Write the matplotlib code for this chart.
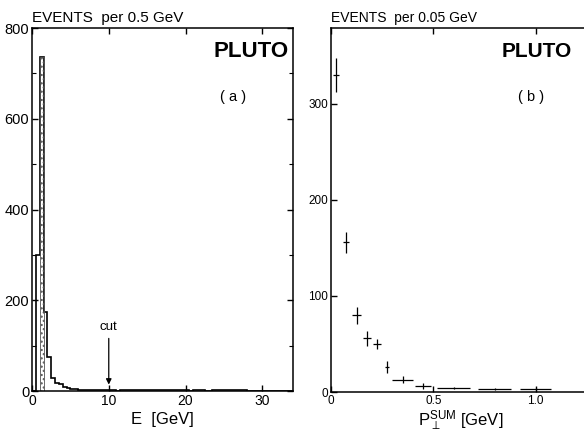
import numpy as np
import matplotlib
matplotlib.use("Agg")
import matplotlib.pyplot as plt
from matplotlib.ticker import MultipleLocator

plt.rcParams['font.family'] = ['Liberation Sans', 'DejaVu Sans']
plt.rcParams['mathtext.fontset'] = 'custom'
plt.rcParams['mathtext.rm'] = 'Liberation Sans'
plt.rcParams['mathtext.it'] = 'Liberation Sans'

# ---- Panel (a): energy histogram, 0.5 GeV bins from 0 to 34 GeV ----
e_bin_width = 0.5
e_counts = [0, 300, 735, 175, 75, 28, 18, 15, 9, 6,
            4, 4, 3, 3, 3, 3, 2, 3, 2, 2,
            2, 2, 1, 2, 2, 2, 2, 2, 2, 2, 2, 2,
            3, 3, 3, 3,
            2, 2, 2, 2, 2, 1, 2, 2, 2, 1, 1, 2,
            3, 3, 3, 3, 3, 3, 2, 2,
            1, 0, 0, 1,
            1, 1, 1, 1, 1, 1, 1, 1]
e_edges = np.arange(len(e_counts) + 1) * e_bin_width
peak_bin = (1.0, 1.5)
peak_value = 735
cut_value = 10

# ---- Panel (b): transverse momentum sum ----
pt_x = [0.025, 0.075, 0.125, 0.175, 0.225, 0.275, 0.35, 0.45, 0.6, 0.8, 1.0]
pt_y = [330, 156, 80, 56, 50, 26, 13, 6, 4, 3, 3]
pt_xerr = [0.015, 0.015, 0.02, 0.02, 0.02, 0.01, 0.05, 0.04, 0.08, 0.08, 0.075]
pt_yerr = [18, 11, 9, 8, 5, 6, 4, 3, 1, 1, 1]

W, H = 584, 440
fig = plt.figure(figsize=(W / 100, H / 100), dpi=100)

axa = fig.add_axes([32 / W, 1 - 391 / H, 261 / W, 363 / H])
axb = fig.add_axes([331 / W, 1 - 392 / H, 260 / W, 364 / H])

for ax in (axa, axb):
    for s in ax.spines.values():
        s.set_linewidth(1.1)
    ax.tick_params(direction='in', top=True, right=True, length=4,
                   width=1.0, pad=2)
    ax.tick_params(which='minor', direction='in', top=True, right=True,
                   length=3, width=0.8)

axa.tick_params(axis='y', labelsize=10.5)
axa.tick_params(axis='x', labelsize=10)
axb.tick_params(axis='both', labelsize=8.5)

# Panel (a)
axa.stairs(e_counts, e_edges, color='black', linewidth=1.2)
axa.bar(peak_bin[0], peak_value, width=peak_bin[1] - peak_bin[0], align='edge',
        fill=False, hatch='....', edgecolor='#555555', linewidth=0.6)
axa.set_xlim(0, 34)
axa.set_ylim(0, 800)
axa.xaxis.set_major_locator(MultipleLocator(10))
axa.yaxis.set_major_locator(MultipleLocator(200))
axa.yaxis.set_minor_locator(MultipleLocator(100))
axa.set_xlabel('E  [GeV]', fontsize=12, labelpad=3)
axa.text(0.0, 1.008, 'EVENTS  per 0.5 GeV', transform=axa.transAxes,
         fontsize=11, ha='left', va='bottom')
axa.text(0.84, 0.935, 'PLUTO', transform=axa.transAxes, fontsize=16,
         fontweight='bold', ha='center', va='center')
axa.text(0.77, 0.81, '( a )', transform=axa.transAxes, fontsize=10.5,
         ha='center', va='center')
axa.annotate('', xy=(cut_value, 8), xytext=(cut_value, 122),
             arrowprops=dict(arrowstyle='-|>', color='black', lw=0.9,
                             mutation_scale=8))
axa.text(cut_value, 128, 'cut', fontsize=9.5, ha='center', va='bottom')

# Panel (b)
axb.errorbar(pt_x, pt_y, xerr=pt_xerr, yerr=pt_yerr, fmt='none',
             ecolor='black', elinewidth=0.9, capsize=0)
axb.set_xlim(0, 1.27)
axb.set_ylim(0, 379)
axb.yaxis.set_major_locator(MultipleLocator(100))
axb.set_xticks([0, 0.5, 1.0])
axb.set_xticklabels(['0', '0.5', '1.0'])
axb.set_xlabel(r'$\mathrm{P}_{\perp}^{\mathrm{SUM}}$ [GeV]', fontsize=12,
               labelpad=1)
axb.text(0.0, 1.008, 'EVENTS  per 0.05 GeV', transform=axb.transAxes,
         fontsize=10, ha='left', va='bottom')
axb.text(0.79, 0.935, 'PLUTO', transform=axb.transAxes, fontsize=15,
         fontweight='bold', ha='center', va='center')
axb.text(0.77, 0.81, '( b )', transform=axb.transAxes, fontsize=10.5,
         ha='center', va='center')

fig.savefig('out.png', dpi=100)
